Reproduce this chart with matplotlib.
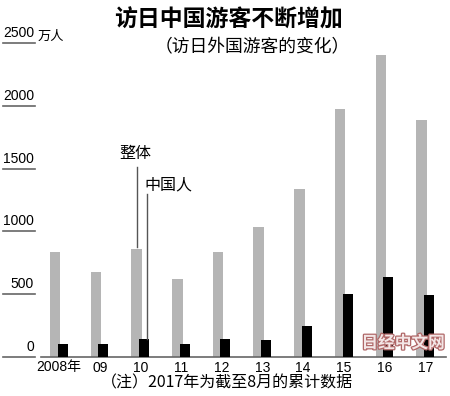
import matplotlib.pyplot as plt
import matplotlib.transforms as mtransforms
import matplotlib.patheffects as pe
from matplotlib import font_manager
import numpy as np

# data (万人)
years = ["2008年", "09", "10", "11", "12", "13", "14", "15", "16", "17"]
total = [835, 679, 861, 622, 836, 1036, 1341, 1974, 2404, 1891]
china = [100, 101, 141, 104, 143, 131, 241, 499, 637, 489]
y_ticks = [0, 500, 1000, 1500, 2000, 2500]

CJK = ["Noto Sans CJK SC", "DejaVu Sans"]

# narrow face for the numbers if it is there
try:
    font_manager.findfont(font_manager.FontProperties(family="Liberation Sans Narrow"),
                          fallback_to_default=False)
    NUM = ["Liberation Sans Narrow", "Noto Sans CJK SC"]
    NUM_SIZE = 10.5
except ValueError:
    NUM = ["Liberation Sans", "Noto Sans CJK SC"]
    NUM_SIZE = 9

W, H = 450, 396


def fx(px):
    return px / W


def fy(py):
    return 1 - py / H


def main() -> None:
    plt.rcParams["font.family"] = CJK
    fig = plt.figure(figsize=(4.5, 3.96), dpi=100)
    ax = fig.add_axes([fx(41), fy(356.7), fx(446) - fx(41), fy(43.3) - fy(356.7)])

    x = np.arange(len(years))
    ax.bar(x - 0.092, total, width=0.258, color="#b5b5b5", zorder=2)
    ax.bar(x + 0.091, china, width=0.246, color="black", zorder=3)

    ax.set_xlim(-0.442, 9.509)
    ax.set_ylim(0, 2500)
    for s in ["top", "right", "left"]:
        ax.spines[s].set_visible(False)
    ax.spines["bottom"].set_color("#666666")
    ax.spines["bottom"].set_linewidth(1.2)
    ax.set_xticks([])
    ax.set_yticks([])

    # y labels sitting on short rules left of the plot
    trans = mtransforms.blended_transform_factory(fig.transFigure, ax.transData)
    for v in y_ticks:
        ax.plot([fx(3), fx(35)], [v, v], color="#666666", lw=1.2,
                transform=trans, clip_on=False)
        ax.text(fx(34), v + 25, str(v), transform=trans, ha="right", va="bottom",
                fontsize=NUM_SIZE + 1, family=NUM)
    fig.text(fx(38), fy(36.5), "万人", fontsize=9.5, va="center", ha="left")

    # x labels
    tx = mtransforms.blended_transform_factory(ax.transData, fig.transFigure)
    for i, lab in enumerate(years):
        ax.text(i, fy(367.5), lab, transform=tx, ha="center", va="center",
                fontsize=NUM_SIZE + 1, family=NUM)

    # callouts
    ax.plot([1.924, 1.924], [1513, 875], color="#555555", lw=1, clip_on=False)
    ax.plot([2.155, 2.155], [1297, 141], color="#555555", lw=1, clip_on=False, zorder=4)
    ax.text(1.88, 1624, "整体", ha="center", va="center", fontsize=11.5)
    ax.text(2.68, 1369, "中国人", ha="center", va="center", fontsize=11.5)

    fig.text(fx(228), fy(20), "访日中国游客不断增加", ha="center", va="center",
             fontsize=16.5, fontweight="bold")
    fig.text(fx(252), fy(47), "（访日外国游客的变化）", ha="center", va="center",
             fontsize=12.8)
    fig.text(fx(227), fy(383), "（注）2017年为截至8月的累计数据", ha="center",
             va="center", fontsize=11.5)

    # watermark
    fig.text(fx(403), fy(343), "日经中文网", ha="center", va="center",
             fontsize=12, fontweight="bold", color="#f3e6e6",
             path_effects=[pe.withStroke(linewidth=1.8, foreground="#b06868")])

    fig.savefig("out.png", dpi=100)


if __name__ == "__main__":
    main()
